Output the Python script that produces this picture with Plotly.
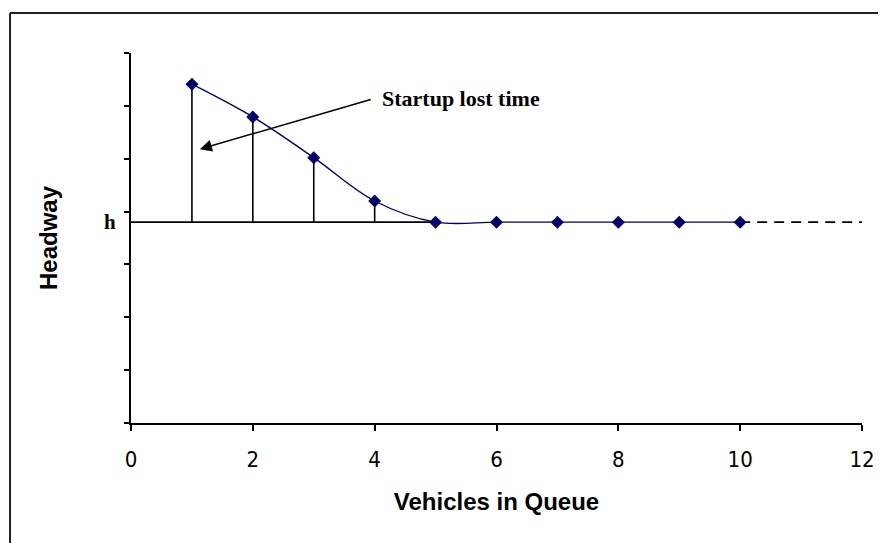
import plotly.graph_objects as go

# Data
vehicles = [1, 2, 3, 4, 5, 6, 7, 8, 9, 10]
headway = [6.41, 5.79, 5.02, 4.20, 3.80, 3.80, 3.80, 3.80, 3.80, 3.80]
h_level = 3.80
x_ticks = [0, 2, 4, 6, 8, 10, 12]
y_ticks = [0, 1, 2, 3, 4, 5, 6, 7]
stem_count = 4          # vehicles with headway above h
dash_end = 12

fig = go.Figure()

# vertical stems from points down to h
sx, sy = [], []
for xv, yv in zip(vehicles[:stem_count], headway[:stem_count]):
    sx += [xv, xv, None]
    sy += [h_level, yv, None]
fig.add_trace(go.Scatter(x=sx, y=sy, mode="lines",
                         line=dict(color="black", width=1.6),
                         hoverinfo="skip", showlegend=False))

# baseline at h from 0 to first vehicle at h
fig.add_trace(go.Scatter(x=[0, vehicles[stem_count]], y=[h_level, h_level], mode="lines",
                         line=dict(color="black", width=1.8),
                         hoverinfo="skip", showlegend=False))

# dashed continuation
fig.add_trace(go.Scatter(x=[vehicles[-1], dash_end], y=[h_level, h_level], mode="lines",
                         line=dict(color="black", width=1.6, dash="10px,7px"),
                         hoverinfo="skip", showlegend=False))

# main series
fig.add_trace(go.Scatter(x=vehicles, y=headway, mode="lines+markers",
                         line=dict(color="#000066", width=1.4, shape="spline", smoothing=1.0),
                         marker=dict(symbol="diamond", size=10, color="#000066"),
                         showlegend=False))

# arrow annotation
fig.add_annotation(x=1.13, y=5.18, ax=3.96, ay=6.13, xref="x", yref="y", axref="x", ayref="y",
                   text="", showarrow=True, arrowhead=2, arrowsize=1.6, arrowwidth=1.5,
                   arrowcolor="black")
fig.add_annotation(x=4.09, y=6.13, xref="x", yref="y", text="<b>Startup lost time</b>",
                   showarrow=False, xanchor="left", yanchor="middle",
                   font=dict(family="Liberation Serif, Times New Roman, serif", size=22, color="black"))
# h label
fig.add_annotation(x=0, y=h_level, xref="x", yref="y", text="<b>h</b>", showarrow=False,
                   xanchor="right", yanchor="middle", xshift=-13,
                   font=dict(family="Liberation Serif, Times New Roman, serif", size=21, color="black"))

# border lines (top and left of picture frame)
fig.add_shape(type="line", xref="paper", yref="paper", x0=-0.1655, x1=1.05, y0=1.108, y1=1.108,
              line=dict(color="#222222", width=2))
fig.add_shape(type="line", xref="paper", yref="paper", x0=-0.1655, x1=-0.1655, y0=1.108, y1=-0.35,
              line=dict(color="#222222", width=2))

fig.update_layout(
    width=878, height=535,
    margin=dict(l=123, r=24, t=45, b=120),
    paper_bgcolor="white", plot_bgcolor="white",
    xaxis=dict(range=[0, 12], tickvals=x_ticks, ticktext=[str(t) for t in x_ticks],
               showgrid=False, zeroline=False, showline=True, linecolor="black", linewidth=2,
               ticks="outside", ticklen=6, tickwidth=2, tickcolor="black",
               ticklabelstandoff=10,
               tickfont=dict(family="Liberation Sans Narrow, Arial Narrow, DejaVu Sans Condensed, sans-serif",
                             size=22, color="black"),
               title=dict(text="<b>Vehicles in Queue</b>", standoff=22,
                          font=dict(family="Liberation Sans, Arial, sans-serif", size=24, color="black"))),
    yaxis=dict(range=[0, 7], tickvals=y_ticks, showticklabels=False,
               showgrid=False, zeroline=False, showline=True, linecolor="black", linewidth=2,
               ticks="outside", ticklen=5, tickwidth=2, tickcolor="black",
               title=dict(text="<b>Headway</b>", standoff=60,
                          font=dict(family="Liberation Sans, Arial, sans-serif", size=24, color="black"))),
)

fig.write_html("out.html")
